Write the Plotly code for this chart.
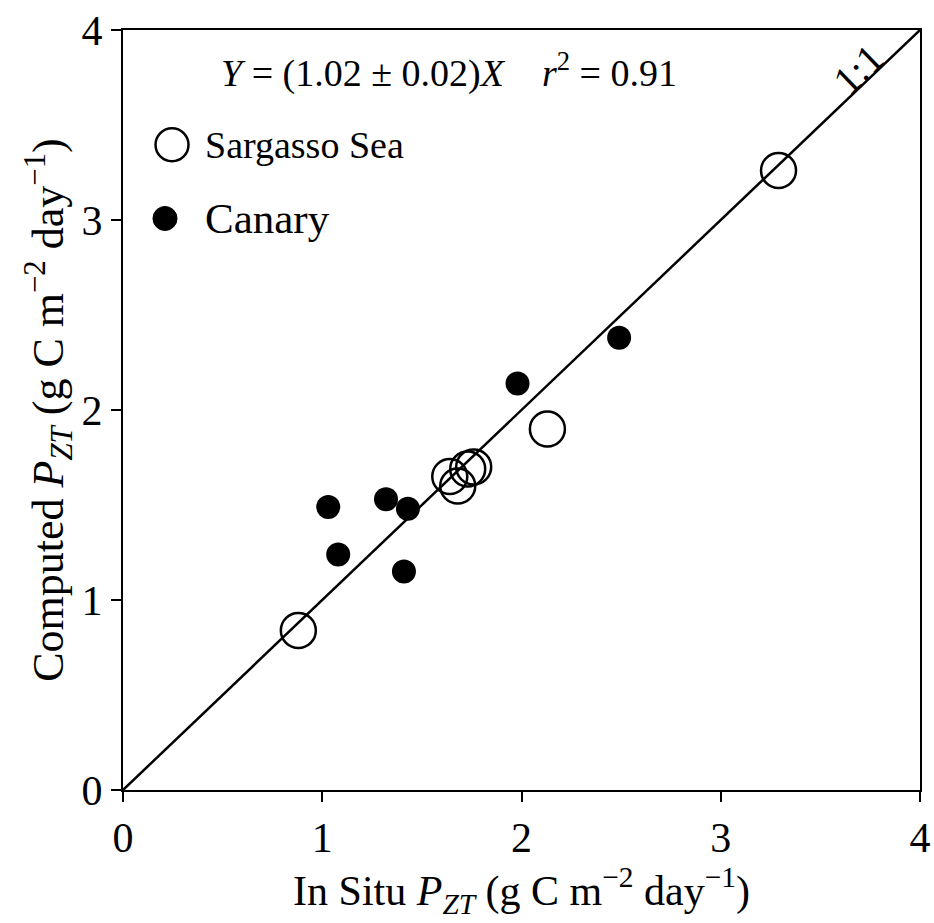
import plotly.graph_objects as go

# Data (g C m^-2 day^-1)
sargasso_x = [0.88, 1.64, 1.68, 1.73, 1.76, 2.13, 3.29]
sargasso_y = [0.84, 1.65, 1.60, 1.69, 1.70, 1.90, 3.26]
canary_x = [1.03, 1.08, 1.32, 1.43, 1.41, 1.98, 2.49]
canary_y = [1.49, 1.24, 1.53, 1.48, 1.15, 2.14, 2.38]
line_x = [0, 4]
line_y = [0, 4]
ticks = [0, 1, 2, 3, 4]
legend_names = ["Sargasso Sea", "Canary"]

FONT = "Liberation Serif"

fig = go.Figure()
fig.add_trace(go.Scatter(x=line_x, y=line_y, mode="lines",
                         line=dict(color="black", width=2.5),
                         showlegend=False, hoverinfo="skip"))
fig.add_trace(go.Scatter(x=sargasso_x, y=sargasso_y, mode="markers", name=legend_names[0],
                         showlegend=False,
                         marker=dict(symbol="circle-open", size=35, color="black",
                                     line=dict(width=2.5, color="black"))))
fig.add_trace(go.Scatter(x=canary_x, y=canary_y, mode="markers", name=legend_names[1],
                         showlegend=False,
                         marker=dict(symbol="circle", size=24, color="black")))

axis_common = dict(range=[0, 4], tickvals=ticks, ticks="outside", ticklen=10,
                   tickwidth=2, tickcolor="black", showline=True, linewidth=2,
                   linecolor="black", mirror=True, showgrid=False, zeroline=False,
                   automargin=False,
                   tickfont=dict(family=FONT, size=42, color="black"))

fig.update_xaxes(**axis_common,
                 title=dict(text="In Situ <i>P</i><sub><i>ZT</i></sub> (g C m<sup>−2</sup> day<sup>−1</sup>)",
                            font=dict(family=FONT, size=42, color="black"), standoff=4))
fig.update_yaxes(**axis_common,
                 title=dict(text="Computed <i>P</i><sub><i>ZT</i></sub> (g C m<sup>−2</sup> day<sup>−1</sup>)",
                            font=dict(family=FONT, size=44, color="black"), standoff=4))

fig.add_annotation(x=0.409, y=0.947, xref="paper", yref="paper", showarrow=False,
                   xanchor="center", yanchor="middle",
                   text="<i>Y</i> = (1.02 ± 0.02)<i>X</i>    <i>r</i><sup>2</sup> = 0.91",
                   font=dict(family=FONT, size=38, color="black"))
fig.add_annotation(x=3.69, y=3.79, showarrow=False, textangle=-44,
                   text="1:1", font=dict(family=FONT, size=40, color="black"))

# Legend drawn manually so symbols keep the reference size
leg_marker_x = [0.0615, 0.0527]
leg_marker_y = [0.849, 0.752]
leg_rx = [0.0207, 0.0151]
leg_ry = [0.0217, 0.0158]
leg_font = [38, 43]
fig.add_shape(type="circle", xref="paper", yref="paper",
              x0=leg_marker_x[0] - leg_rx[0], x1=leg_marker_x[0] + leg_rx[0],
              y0=leg_marker_y[0] - leg_ry[0], y1=leg_marker_y[0] + leg_ry[0],
              line=dict(color="black", width=2.5), fillcolor="rgba(0,0,0,0)")
fig.add_shape(type="circle", xref="paper", yref="paper",
              x0=leg_marker_x[1] - leg_rx[1], x1=leg_marker_x[1] + leg_rx[1],
              y0=leg_marker_y[1] - leg_ry[1], y1=leg_marker_y[1] + leg_ry[1],
              line=dict(color="black", width=1), fillcolor="black")
for name, yy, fs in zip(legend_names, leg_marker_y, leg_font):
    fig.add_annotation(x=0.100, y=yy, xref="paper", yref="paper", showarrow=False,
                       xanchor="left", yanchor="middle", text=name,
                       font=dict(family=FONT, size=fs, color="black"))

fig.update_layout(
    width=934, height=923,
    margin=dict(l=123, r=14, t=30, b=133),
    plot_bgcolor="white", paper_bgcolor="white",
    showlegend=False,
)

fig.write_html("out.html")
